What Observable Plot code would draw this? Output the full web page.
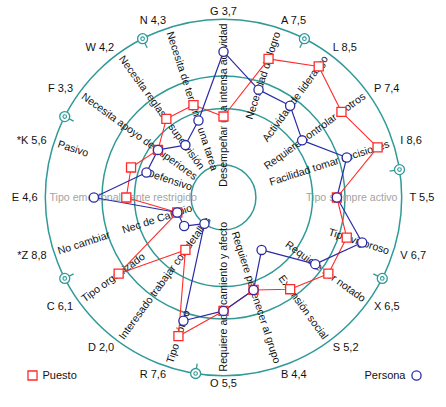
<!DOCTYPE html>
<html>
<head>
<meta charset="utf-8">
<script src="https://cdn.jsdelivr.net/npm/d3@7"></script>
<script src="https://cdn.jsdelivr.net/npm/@observablehq/plot@0.6"></script>
<style>
  html, body { margin: 0; padding: 0; background: #fff; }
  #chart { width: 446px; height: 407px; }
</style>
</head>
<body>
<div id="chart"></div>
<script>
// ---------- data ----------
const factors = ["G","A","L","P","I","T","V","X","S","B","O","R","D","C","*Z","E","*K","F","W","N"];
const scoreLabels = ["3,7","7,5","8,5","7,4","8,6","5,5","6,7","6,5","5,2","4,4","5,5","7,6","2,0","6,1","8,8","4,6","5,6","3,3","4,2","4,3"];
const descriptions = [
  "Desempeñar una intensa actividad",
  "Necesidad de logro",
  "Actividad de liderazgo",
  "Requiere controlar a otros",
  "Facilidad tomar decisiones",
  "Tipo siempre activo",
  "Tipo vigoroso",
  "Requiere ser notado",
  "Extensión social",
  "Requiere pertenecer al grupo",
  "Requiere acercamiento y afecto",
  "Tipo teórico",
  "Interesado trabajar con detalles",
  "Tipo organizado",
  "No cambiar",
  "Tipo emocionalmente restrigido",
  "Pasivo",
  "Necesita apoyo de superiores",
  "Necesita reglas y supervisión",
  "Necesita de terminar una tarea"
];
const innerFactors = ["*Z", "*K"];
const innerTexts = ["Nec de Cambio", "Defensivo"];
const mutedFactors = ["T", "E"];
const puesto  = [3,7,8,7,8,5,6,6,5,4,5,7,2,6,1,4,4,3,4,4];
const persona = [7,5,5,4,6,5,7,5,2,4,5,6,0,1,1,6,3,3,2,3];
const ringValues = [0, 3.5, 5.5, 9];
const markerSlots = [1.5, 4.5, 6.5, 10.5, 13.5, 16.5, 18.5];
const legendLabels = ["Puesto", "Persona"];

// ---------- geometry helpers ----------
const W = 446, H = 407, CX = 223, CY = 197, UNIT = 16.2;
const OFFSET = 2, MAXV = 9;
const n = factors.length;
const theta = i => i * 360 / n;
const toX = (u, a) => u * Math.sin(a * Math.PI / 180);
const toY = (u, a) => u * Math.cos(a * Math.PI / 180);
const radius = v => v + OFFSET;
const OUTER = radius(MAXV);
const DESC_R = OUTER - 0.26;
const LABEL_R = OUTER + 0.48;
const INNER_R = radius(0) + 0.05;

const TEAL = "#2f9a96", RED = "#ff2a2a", BLUE = "#2b2ba6", GREY = "#a3a3a3";

const idx = d3.range(n);
const pts = vals => idx.map(i => ({x: toX(radius(vals[i]), theta(i)), y: toY(radius(vals[i]), theta(i))}));
const puestoPts = pts(puesto);
const personaPts = pts(persona);

const desc = idx.map(i => ({a: theta(i), text: descriptions[i], muted: mutedFactors.includes(factors[i])}));
const rightDesc = desc.filter(d => d.a < 180);
const leftDesc = desc.filter(d => d.a >= 180);
const inner = innerFactors.map((f, k) => ({a: theta(factors.indexOf(f)), text: innerTexts[k]}));

const labels = idx.map(i => ({a: theta(i), text: `${factors[i]} ${scoreLabels[i]}`}));
const labMid = labels.filter(d => d.a === 0 || d.a === 180);
const labRight = labels.filter(d => d.a > 0 && d.a < 180);
const labLeft = labels.filter(d => d.a > 180);

const markers = markerSlots.map(s => ({a: s * 360 / n}));

const chart = Plot.plot({
  width: W, height: H, margin: 0,
  x: {domain: [-CX / UNIT, (W - CX) / UNIT], axis: null},
  y: {domain: [(CY - H) / UNIT, CY / UNIT], axis: null},
  r: {type: "linear", domain: [0, 1], range: [0, UNIT]},
  style: {fontFamily: "'Liberation Sans', Arial, sans-serif", fontSize: "10.6px", background: "#fff", color: "#111", overflow: "visible"},
  marks: [
    // rings
    Plot.dot(ringValues, {x: () => 0, y: () => 0, r: v => radius(v), stroke: TEAL, strokeWidth: 1.5, fill: "none"}),
    // decorative markers on the outer ring
    Plot.link(markers, {x1: d => toX(OUTER, d.a), y1: d => toY(OUTER, d.a), x2: d => toX(OUTER - 0.62, d.a), y2: d => toY(OUTER - 0.62, d.a), stroke: TEAL, strokeWidth: 1.3}),
    Plot.dot(markers, {x: d => toX(OUTER, d.a), y: d => toY(OUTER, d.a), r: 5, stroke: TEAL, strokeWidth: 1.3, fill: "#fff"}),
    Plot.dot(markers, {x: d => toX(OUTER, d.a), y: d => toY(OUTER, d.a), r: 1.8, stroke: TEAL, strokeWidth: 1.1, fill: "none"}),
    // axis descriptions
    Plot.text(rightDesc, {x: d => toX(DESC_R, d.a), y: d => toY(DESC_R, d.a), text: "text", rotate: d => d.a - 90, textAnchor: "end", fill: d => d.muted ? GREY : "#111"}),
    Plot.text(leftDesc, {x: d => toX(DESC_R, d.a), y: d => toY(DESC_R, d.a), text: "text", rotate: d => d.a - 270, textAnchor: "start", fill: d => d.muted ? GREY : "#111"}),
    Plot.text(inner, {x: d => toX(INNER_R, d.a), y: d => toY(INNER_R, d.a), text: "text", rotate: d => d.a - 270, textAnchor: "end", fill: "#111"}),
    // factor labels
    Plot.text(labMid, {x: d => toX(LABEL_R, d.a), y: d => toY(LABEL_R, d.a), text: "text", textAnchor: "middle", fill: "#111", fontSize: 11}),
    Plot.text(labRight, {x: d => toX(LABEL_R, d.a), y: d => toY(LABEL_R, d.a), text: "text", textAnchor: "start", fill: "#111", fontSize: 11}),
    Plot.text(labLeft, {x: d => toX(LABEL_R, d.a), y: d => toY(LABEL_R, d.a), text: "text", textAnchor: "end", fill: "#111", fontSize: 11}),
    // polygons
    Plot.line(puestoPts, {x: "x", y: "y", curve: "linear-closed", stroke: RED, strokeWidth: 1.1}),
    Plot.line(personaPts, {x: "x", y: "y", curve: "linear-closed", stroke: BLUE, strokeWidth: 1.2}),
    Plot.dot(puestoPts, {x: "x", y: "y", symbol: "square", r: 5.1, stroke: RED, strokeWidth: 1.3, fill: "#fff"}),
    Plot.dot(personaPts, {x: "x", y: "y", symbol: "circle", r: 4.6, stroke: BLUE, strokeWidth: 1.3, fill: "#fff"}),
    // legend
    Plot.dot([legendLabels[0]], {frameAnchor: "bottom-left", dx: 32, dy: -32, symbol: "square", r: 5.1, stroke: RED, strokeWidth: 1.3, fill: "#fff"}),
    Plot.text([legendLabels[0]], {frameAnchor: "bottom-left", dx: 42, dy: -32, text: d => d, textAnchor: "start", lineAnchor: "middle", fill: "#111", fontSize: 11}),
    Plot.dot([legendLabels[1]], {frameAnchor: "bottom-right", dx: -30, dy: -32, symbol: "circle", r: 4.6, stroke: BLUE, strokeWidth: 1.3, fill: "#fff"}),
    Plot.text([legendLabels[1]], {frameAnchor: "bottom-right", dx: -41, dy: -32, text: d => d, textAnchor: "end", lineAnchor: "middle", fill: "#111", fontSize: 11})
  ]
});
document.getElementById("chart").appendChild(chart);
</script>
</body>
</html>
